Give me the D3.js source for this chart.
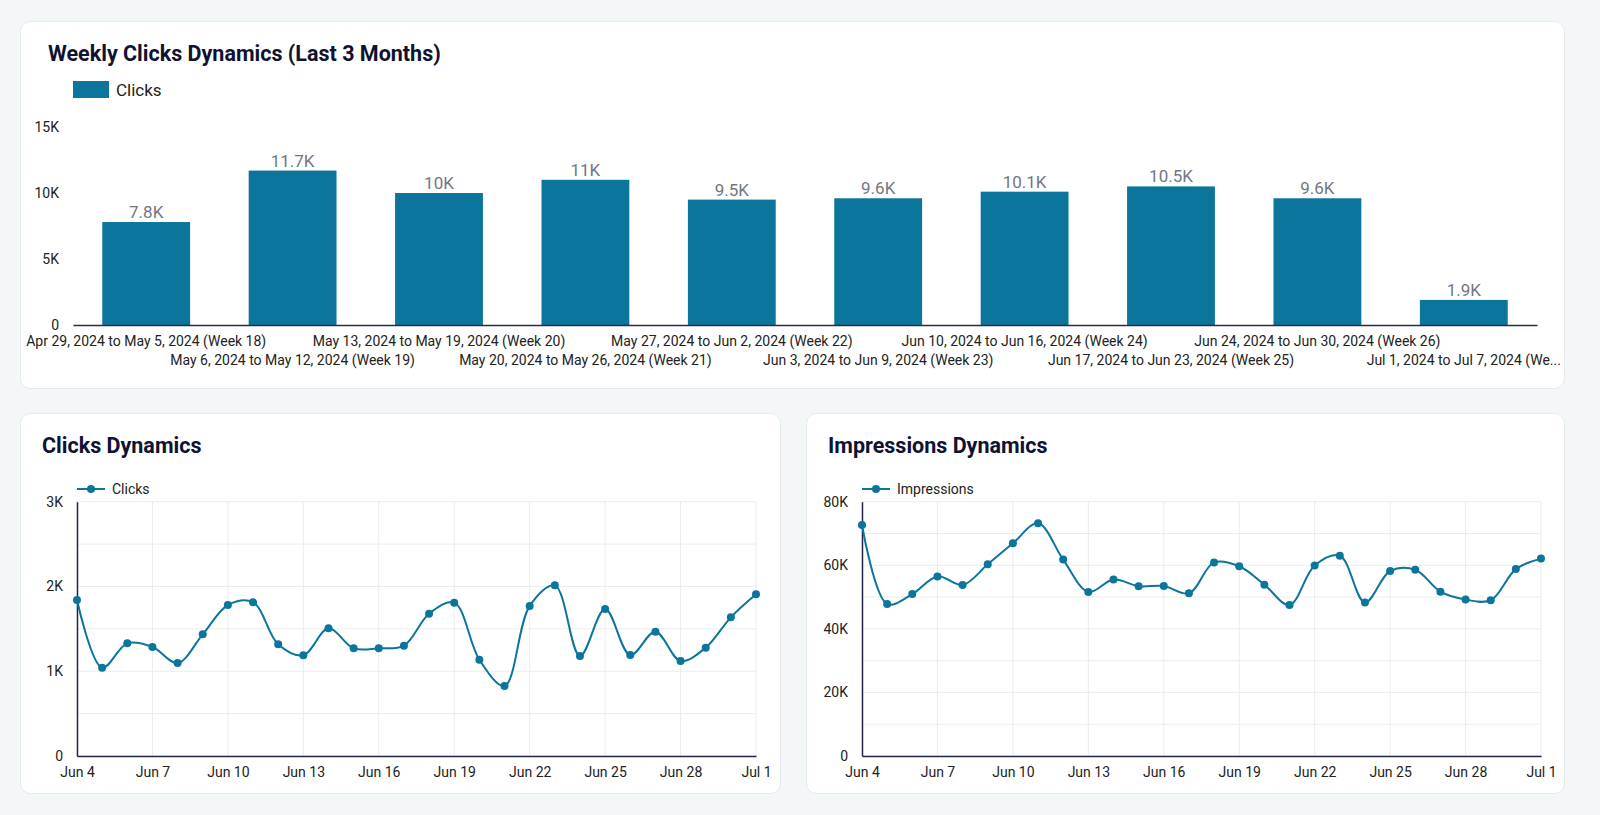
<!DOCTYPE html>
<html>
<head>
<meta charset="utf-8">
<script src="https://cdn.jsdelivr.net/npm/d3@7"></script>
<style>
  html, body { margin: 0; padding: 0; background: #f4f7f8; }
  svg { display: block; font-family: Roboto, "Noto Sans", sans-serif; }
</style>
</head>
<body>
<svg id="chart" width="1600" height="815"></svg>
<script>
// ---------- DATA ----------
const weekLabels = [
  "Apr 29, 2024 to May 5, 2024 (Week 18)",
  "May 6, 2024 to May 12, 2024 (Week 19)",
  "May 13, 2024 to May 19, 2024 (Week 20)",
  "May 20, 2024 to May 26, 2024 (Week 21)",
  "May 27, 2024 to Jun 2, 2024 (Week 22)",
  "Jun 3, 2024 to Jun 9, 2024 (Week 23)",
  "Jun 10, 2024 to Jun 16, 2024 (Week 24)",
  "Jun 17, 2024 to Jun 23, 2024 (Week 25)",
  "Jun 24, 2024 to Jun 30, 2024 (Week 26)",
  "Jul 1, 2024 to Jul 7, 2024 (Week 27)"
];
const weeklyClicks = [7800, 11700, 10000, 11000, 9500, 9600, 10100, 10500, 9600, 1900];
const weeklyTicks = [0, 5000, 10000, 15000];

const days = [
  "2024-06-04","2024-06-05","2024-06-06","2024-06-07","2024-06-08","2024-06-09","2024-06-10",
  "2024-06-11","2024-06-12","2024-06-13","2024-06-14","2024-06-15","2024-06-16","2024-06-17",
  "2024-06-18","2024-06-19","2024-06-20","2024-06-21","2024-06-22","2024-06-23","2024-06-24",
  "2024-06-25","2024-06-26","2024-06-27","2024-06-28","2024-06-29","2024-06-30","2024-07-01"
];
const dailyClicks = [1840, 1042, 1329, 1286, 1097, 1435, 1781, 1813, 1317, 1188, 1506, 1270, 1270, 1302,
                     1679, 1809, 1136, 826, 1770, 2013, 1180, 1734, 1191, 1467, 1121, 1278, 1636, 1907];
const dailyImpressions = [72660, 47800, 50960, 56500, 53800, 60300, 66900, 73200, 61800, 51600, 55500, 53400, 53500, 51200,
                          60900, 59700, 53900, 47500, 59900, 63000, 48300, 58200, 58600, 51700, 49200, 49000, 58800, 62100];
const dayTickLabels = ["Jun 4","Jun 7","Jun 10","Jun 13","Jun 16","Jun 19","Jun 22","Jun 25","Jun 28","Jul 1"];
const clicksTicks = [0, 1000, 2000, 3000];
const clicksGrid = [0, 500, 1000, 1500, 2000, 2500, 3000];
const imprTicks = [0, 20000, 40000, 60000, 80000];
const imprGrid = [0, 10000, 20000, 30000, 40000, 50000, 60000, 70000, 80000];

// ---------- STYLE ----------
const BLUE = "#0b759c";
const NAVY = "#0f1232";
const TEXT = "#222";
const GRID = "#ececec";

const svg = d3.select("#chart");
const parse = d3.timeParse("%Y-%m-%d");
const fmtK = v => v === 0 ? "0" : (v / 1000) + "K";
const fmtVal = v => d3.format(".3~s")(v).replace("k", "K");

function card(x, y, w, h) {
  svg.append("rect").attr("x", x + 0.5).attr("y", y + 0.5).attr("width", w).attr("height", h)
    .attr("rx", 10).attr("fill", "#fff").attr("stroke", "#e6eaec");
}
function title(x, y, t) {
  svg.append("text").attr("x", x).attr("y", y).text(t)
    .attr("font-size", 21.5).attr("font-weight", 700).attr("fill", NAVY);
}

// ---------- CARDS ----------
card(20, 21, 1544, 367);
card(20, 413, 760, 380);
card(806, 413, 758, 380);

// ---------- BAR CHART ----------
title(48, 61, "Weekly Clicks Dynamics (Last 3 Months)");
svg.append("rect").attr("x", 73).attr("y", 81).attr("width", 36).attr("height", 17).attr("fill", BLUE);
svg.append("text").attr("x", 116).attr("y", 95.5).text("Clicks").attr("font-size", 17).attr("fill", TEXT);

const xb = d3.scaleBand().domain(weekLabels).range([73, 1537]).paddingInner(0.4).paddingOuter(0.2);
const yb = d3.scaleLinear().domain([0, 15000]).range([325, 127]);

svg.append("g").selectAll("rect").data(weeklyClicks).join("rect")
  .attr("x", (d, i) => xb(weekLabels[i]))
  .attr("y", d => yb(d))
  .attr("width", xb.bandwidth())
  .attr("height", d => yb(0) - yb(d))
  .attr("fill", BLUE);

svg.append("g").selectAll("text").data(weeklyClicks).join("text")
  .attr("x", (d, i) => xb(weekLabels[i]) + xb.bandwidth() / 2)
  .attr("y", d => yb(d) - 4)
  .attr("text-anchor", "middle")
  .attr("font-size", 17).attr("fill", "#737682")
  .text(d => fmtVal(d));

const yAxisB = svg.append("g").attr("transform", "translate(73,0)")
  .call(d3.axisLeft(yb).tickValues(weeklyTicks).tickFormat(fmtK).tickSize(0).tickPadding(14));
yAxisB.select(".domain").remove();
yAxisB.selectAll("text").attr("font-size", 14).attr("fill", TEXT).attr("font-family", "Roboto");

const xAxisB = svg.append("g").attr("transform", "translate(0,325)")
  .call(d3.axisBottom(xb).tickSize(0).tickPadding(0));
xAxisB.select(".domain").attr("stroke", "#2b2d4a").attr("stroke-width", 1.5);
xAxisB.selectAll("text")
  .attr("font-size", 14).attr("fill", TEXT).attr("font-family", "Roboto")
  .attr("dy", null)
  .attr("y", (d, i) => i % 2 === 0 ? 21 : 40)
  .each(function (d) {
    const el = d3.select(this);
    const cx = xb(d) + xb.bandwidth() / 2;
    const maxHalf = 1562 - cx;
    let t = d;
    if (this.getComputedTextLength() / 2 > maxHalf) {
      while (t.length > 1) {
        t = t.slice(0, -1);
        el.text(t + "...");
        if (this.getComputedTextLength() / 2 <= maxHalf) break;
      }
    }
  });

// ---------- LINE CHARTS ----------
function lineChart(opts) {
  const { x0, x1, values, ticks, grid, legend, titleX, legendX } = opts;
  const dates = days.map(parse);
  const x = d3.scaleTime().domain([dates[0], dates[dates.length - 1]]).range([x0, x1]);
  const y = d3.scaleLinear().domain([0, grid[grid.length - 1]]).range([756, 501.7]);
  const tickDates = dates.filter(d => dayTickLabels.includes(d3.timeFormat("%b %-d")(d)));

  title(titleX, 453, opts.title);

  const g = svg.append("g");
  g.append("g").selectAll("line").data(grid).join("line")
    .attr("x1", x0).attr("x2", x1).attr("y1", d => y(d)).attr("y2", d => y(d))
    .attr("stroke", GRID).attr("stroke-width", 1);
  g.append("g").selectAll("line").data(tickDates).join("line")
    .attr("x1", d => x(d)).attr("x2", d => x(d)).attr("y1", y(0)).attr("y2", y(grid[grid.length - 1]))
    .attr("stroke", GRID).attr("stroke-width", 1);

  const ya = g.append("g").attr("transform", `translate(${x0},0)`)
    .call(d3.axisLeft(y).tickValues(ticks).tickFormat(fmtK).tickSize(0).tickPadding(14));
  ya.select(".domain").attr("stroke", "#23254a").attr("stroke-width", 1.5);
  ya.selectAll("text").attr("font-size", 14).attr("fill", TEXT).attr("font-family", "Roboto");

  const xa = g.append("g").attr("transform", "translate(0,756)")
    .call(d3.axisBottom(x).tickValues(tickDates).tickFormat(d3.timeFormat("%b %-d")).tickSize(0).tickPadding(11));
  xa.select(".domain").attr("stroke", "#23254a").attr("stroke-width", 1.5);
  xa.selectAll("text").attr("font-size", 14).attr("fill", TEXT).attr("font-family", "Roboto");

  const line = d3.line().x((d, i) => x(dates[i])).y(d => y(d)).curve(d3.curveCatmullRom.alpha(0.5));
  g.append("path").datum(values).attr("d", line)
    .attr("fill", "none").attr("stroke", BLUE).attr("stroke-width", 2);
  g.append("g").selectAll("circle").data(values).join("circle")
    .attr("cx", (d, i) => x(dates[i])).attr("cy", d => y(d)).attr("r", 4).attr("fill", BLUE);

  svg.append("line").attr("x1", legendX).attr("x2", legendX + 28).attr("y1", 489).attr("y2", 489)
    .attr("stroke", BLUE).attr("stroke-width", 2);
  svg.append("circle").attr("cx", legendX + 14).attr("cy", 489).attr("r", 4).attr("fill", BLUE);
  svg.append("text").attr("x", legendX + 35).attr("y", 494).text(legend)
    .attr("font-size", 14).attr("fill", TEXT);
}

lineChart({ x0: 77, x1: 756, values: dailyClicks, ticks: clicksTicks, grid: clicksGrid,
  legend: "Clicks", title: "Clicks Dynamics", titleX: 42, legendX: 77 });
lineChart({ x0: 862, x1: 1541, values: dailyImpressions, ticks: imprTicks, grid: imprGrid,
  legend: "Impressions", title: "Impressions Dynamics", titleX: 828, legendX: 862 });
</script>
</body>
</html>
